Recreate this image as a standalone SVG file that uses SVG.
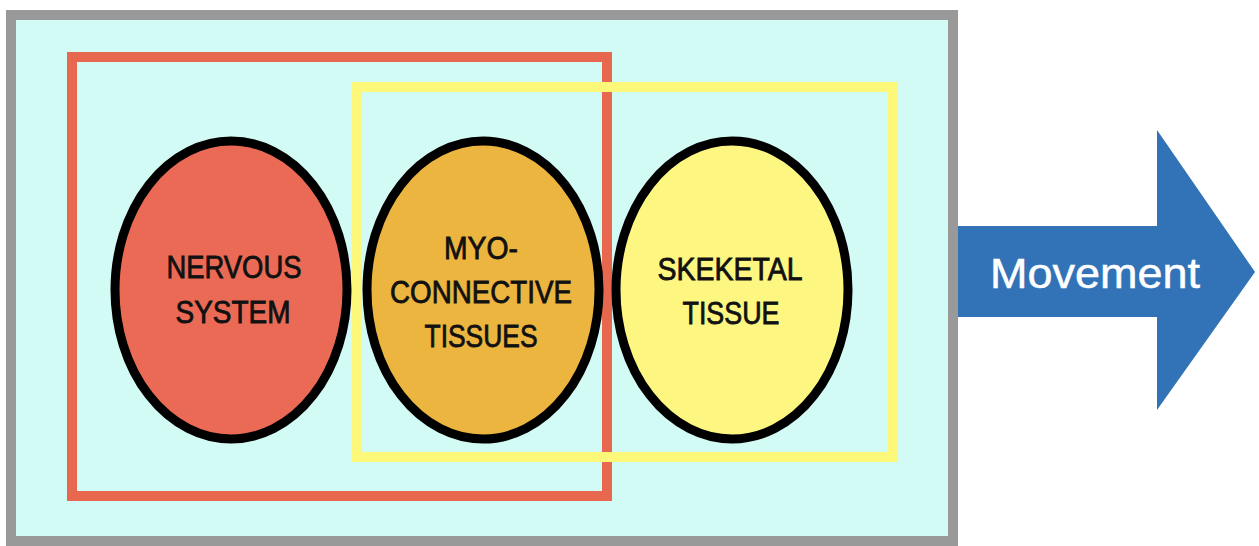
<svg xmlns="http://www.w3.org/2000/svg" width="1259" height="546" viewBox="0 0 1259 546">
<style>
.lbl{font-family:"Liberation Sans",Arial,sans-serif;font-size:31px;fill:#111;stroke:#111;stroke-width:0.8;text-anchor:middle}
.node{stroke:#000;stroke-width:9}
.frame{fill:none;stroke-width:10}
</style>
<rect width="1259" height="546" fill="#fff"/>
<g id="container">
<rect x="11" y="15" width="942" height="526" fill="#d3fbf6" stroke="#999" stroke-width="10"/>
</g>
<g id="group-red"><rect class="frame" x="72" y="57" width="535" height="439" stroke="#e8684f"/></g>
<g id="group-yellow"><rect class="frame" x="357" y="87" width="536" height="370" stroke="#fdf77a"/></g>
<g id="node-nervous">
<ellipse class="node" cx="231" cy="290" rx="116" ry="149" fill="#eb6a55"/>
<text class="lbl" x="234" y="278" textLength="135" lengthAdjust="spacingAndGlyphs">NERVOUS</text>
<text class="lbl" x="233" y="323" textLength="115" lengthAdjust="spacingAndGlyphs">SYSTEM</text>
</g>
<g id="node-myo">
<ellipse class="node" cx="483" cy="290" rx="116" ry="149" fill="#ecb53f"/>
<text class="lbl" x="481" y="259" textLength="74" lengthAdjust="spacingAndGlyphs">MYO-</text>
<text class="lbl" x="481" y="303" textLength="182" lengthAdjust="spacingAndGlyphs">CONNECTIVE</text>
<text class="lbl" x="481" y="347" textLength="113" lengthAdjust="spacingAndGlyphs">TISSUES</text>
</g>
<g id="node-skeletal">
<ellipse class="node" cx="732" cy="290" rx="116" ry="149" fill="#fdf782"/>
<text class="lbl" x="730" y="280" textLength="145" lengthAdjust="spacingAndGlyphs">SKEKETAL</text>
<text class="lbl" x="731" y="324" textLength="97" lengthAdjust="spacingAndGlyphs">TISSUE</text>
</g>
<g id="connectors">
<g id="arrow-movement">
<polygon points="958,226 1157,226 1157,130 1255,272 1157,410 1157,317 958,317" fill="#3273b8"/>
<text x="1095" y="288" font-family="'Liberation Sans',Arial,sans-serif" font-size="43" fill="#fff" stroke="#fff" stroke-width="0.5" text-anchor="middle" textLength="210" lengthAdjust="spacingAndGlyphs">Movement</text>
</g>
</g>
</svg>
